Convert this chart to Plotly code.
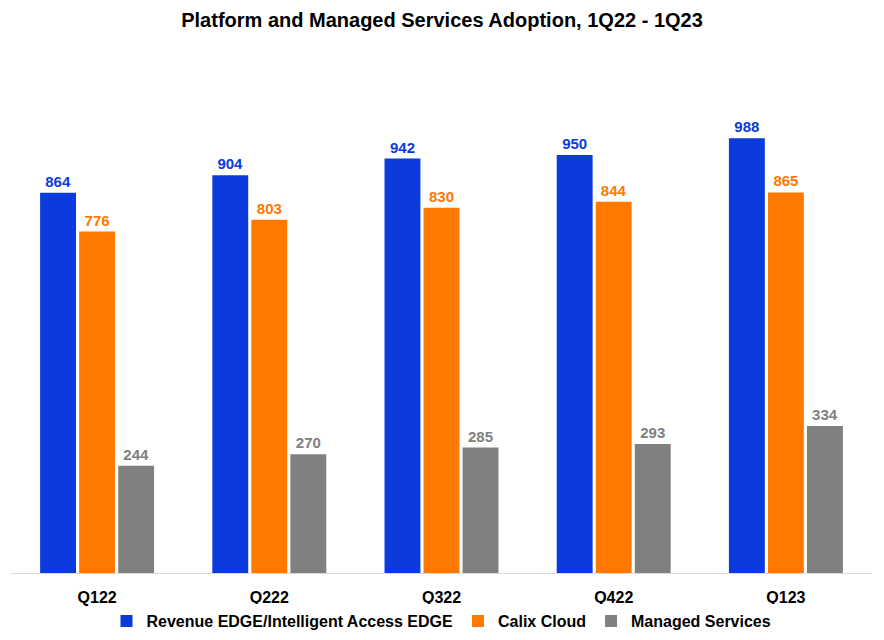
import plotly.graph_objects as go

quarters = ["Q122", "Q222", "Q322", "Q422", "Q123"]
revenue_edge = [864, 904, 942, 950, 988]
calix_cloud = [776, 803, 830, 844, 865]
managed_services = [244, 270, 285, 293, 334]

series = [
    ("Revenue EDGE/Intelligent Access EDGE", revenue_edge, "#0b3bdc"),
    ("Calix Cloud", calix_cloud, "#ff7800"),
    ("Managed Services", managed_services, "#808080"),
]

fig = go.Figure()
for name, vals, color in series:
    fig.add_trace(go.Bar(
        x=quarters, y=vals, name="<b>%s</b>" % name,
        marker=dict(color=color, line=dict(width=0)),
        text=vals, textposition="outside", cliponaxis=False,
        textfont=dict(color=color, size=15, family="Liberation Sans"),
        texttemplate="<b>%{text}</b>",
    ))

fig.update_layout(
    title=dict(text="<b>Platform and Managed Services Adoption, 1Q22 - 1Q23</b>",
               x=0.491, xanchor="center", y=0.981, yanchor="middle",
               font=dict(size=20, color="black", family="Liberation Sans")),
    width=884, height=640,
    margin=dict(l=3, r=20, t=37, b=75, autoexpand=False),
    paper_bgcolor="white", plot_bgcolor="white",
    barmode="group", bargap=0.32, bargroupgap=0.08,
    font=dict(family="Liberation Sans", color="black"),
    showlegend=True,
    legend=dict(orientation="h", x=0.5, xanchor="center",
                yref="container", y=0.042, yanchor="middle",
                font=dict(size=16), traceorder="normal", itemwidth=30),
)
fig.update_xaxes(showline=True, linecolor="#d9d9d9", linewidth=1,
                 ticks="", tickfont=dict(size=16),
                 tickvals=quarters, ticktext=["<b>%s</b>" % q for q in quarters],
                 ticklabelstandoff=10)
fig.update_yaxes(range=[0, 1200], visible=False, showgrid=False)

fig.write_html("out.html")
